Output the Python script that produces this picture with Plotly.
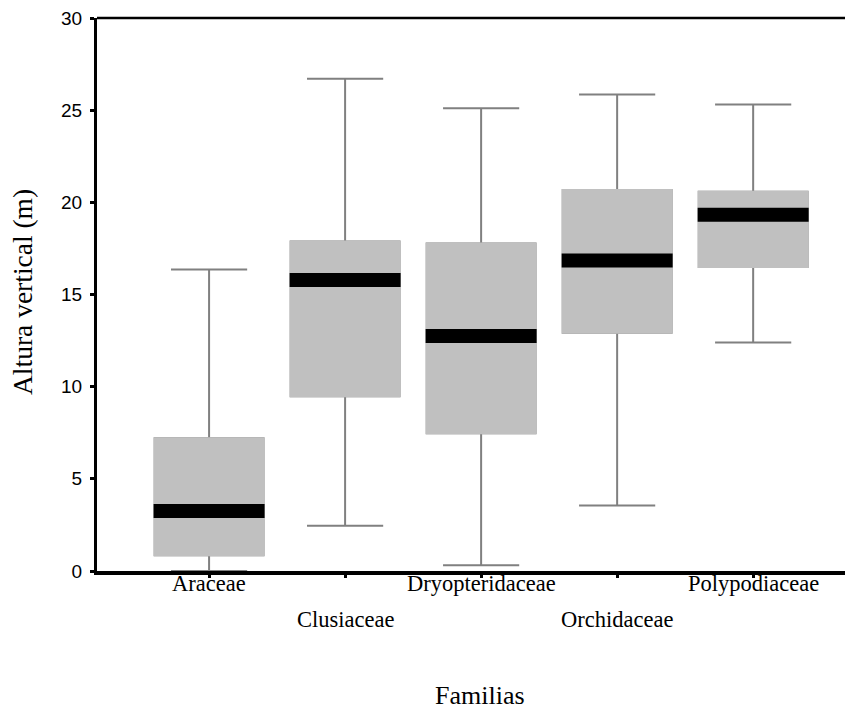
import plotly.graph_objects as go

# ---- data ----
familias = ["Araceae", "Clusiaceae", "Dryopteridaceae", "Orchidaceae", "Polypodiaceae"]
lower_whisker = [0.0, 2.45, 0.31, 3.55, 12.39]
q1_values = [0.85, 9.48, 7.47, 12.93, 16.49]
median_values = [3.26, 15.78, 12.75, 16.85, 19.33]
q3_values = [7.20, 17.87, 17.76, 20.67, 20.57]
upper_whisker = [16.36, 26.71, 25.11, 25.85, 25.31]
label_row = [0, 1, 0, 1, 0]   # staggered category labels
y_ticks = [0, 5, 10, 15, 20, 25, 30]

BOX_W = 0.8
BOX_FILL = "#c0c0c0"
WHISK = "#808080"
SERIF = "Liberation Serif, Times New Roman, serif"
SANS = "Liberation Sans, Arial, sans-serif"

# the page body has an 8px default margin: the figure is sized to fit inside it
FIG_W, FIG_H = 845, 700
L, T, B = 89, 7, 136.5

fig = go.Figure()

# whiskers + caps (box outline later covered)
fig.add_trace(go.Box(
    x=familias, q1=q1_values, median=median_values, q3=q3_values,
    lowerfence=lower_whisker, upperfence=upper_whisker,
    width=BOX_W, whiskerwidth=0.7, boxpoints=False,
    line=dict(color=WHISK, width=2), fillcolor=BOX_FILL,
    showlegend=False, hoverinfo="skip"))

# plain grey box without outline
fig.add_trace(go.Box(
    x=familias, q1=q1_values, median=median_values, q3=q3_values,
    lowerfence=q1_values, upperfence=q3_values,
    width=BOX_W, whiskerwidth=0.7, boxpoints=False,
    line=dict(color=BOX_FILL, width=2), fillcolor=BOX_FILL,
    showlegend=False, hoverinfo="skip"))

# thick black median band
fig.add_trace(go.Scatter(
    x=familias, y=median_values, mode="markers",
    marker=dict(symbol="line-ew", size=79.3,
                line=dict(color="black", width=14)),
    showlegend=False, hoverinfo="skip"))

annotations = []
for name, row in zip(familias, label_row):
    annotations.append(dict(
        x=name, xref="x", y=0, yref="paper", yanchor="top", xanchor="center",
        yshift=2.5 if row == 0 else -34, text=name, showarrow=False,
        font=dict(family=SERIF, size=22.5, color="black")))

annotations.append(dict(
    x=(472 - L) / (FIG_W - L), xref="paper", y=0, yref="paper", yanchor="top",
    xanchor="center", yshift=-108, text="Familias", showarrow=False,
    font=dict(family=SERIF, size=26, color="black")))
annotations.append(dict(
    x=0, xref="paper", y=0.5, yref="paper", xanchor="center", yanchor="middle",
    xshift=14.5 - L, yshift=2, textangle=-90, text="Altura vertical (m)",
    showarrow=False, font=dict(family=SERIF, size=27.5, color="black")))

fig.update_layout(
    width=FIG_W, height=FIG_H,
    margin=dict(l=L, r=0, t=T, b=B, pad=0),
    paper_bgcolor="white", plot_bgcolor="white",
    boxmode="overlay",
    annotations=annotations,
    shapes=[dict(type="line", xref="paper", yref="paper", x0=0, x1=1.01, y0=1, y1=1,
                 line=dict(color="black", width=2.5))],
    xaxis=dict(
        type="category", range=[-0.824, 4.734],
        showline=True, linecolor="black", linewidth=4,
        ticks="outside", ticklen=3, tickwidth=3, tickcolor="black",
        showticklabels=False, showgrid=False, zeroline=False, fixedrange=True),
    yaxis=dict(
        range=[0, 30], tickvals=y_ticks,
        showline=True, linecolor="black", linewidth=3,
        ticks="outside", ticklen=4, tickwidth=3, tickcolor="black",
        ticklabelstandoff=4, ticklabeloverflow="allow",
        tickfont=dict(family=SANS, size=19, color="black"),
        showgrid=False, zeroline=False, fixedrange=True),
)

fig.write_html("out.html")
